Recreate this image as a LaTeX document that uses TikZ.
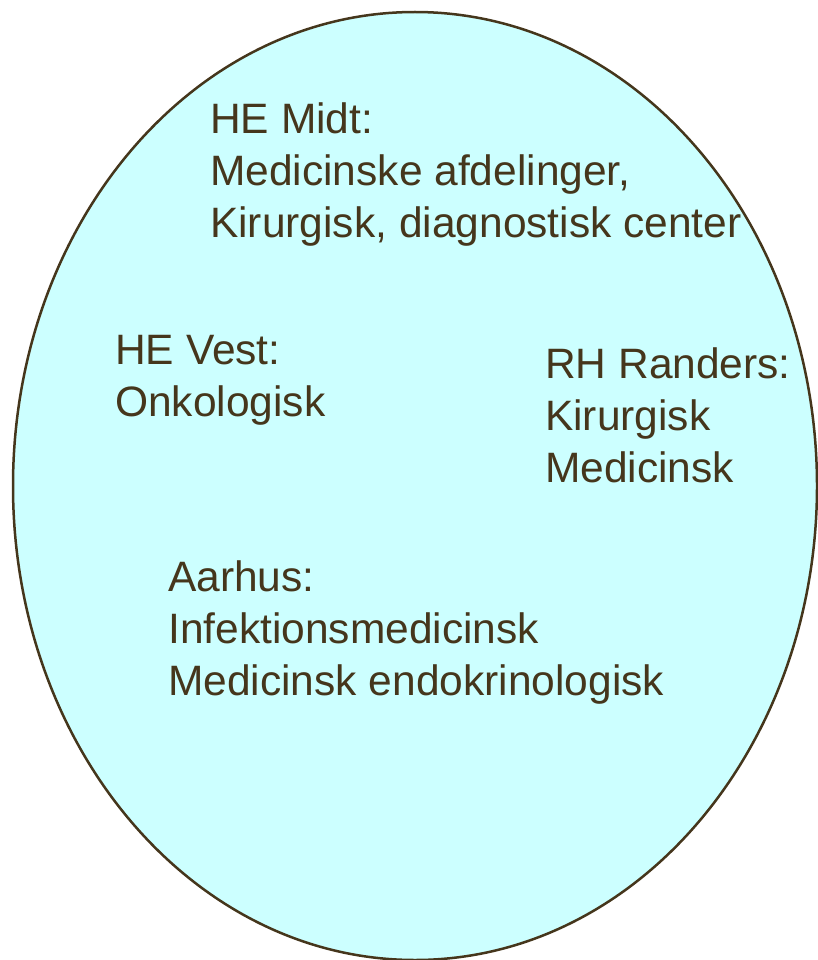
\documentclass[tikz,border=0pt]{standalone}
\usepackage{fontspec}
\setmainfont{Liberation Sans}
\definecolor{fillc}{HTML}{CCFFFF}
\definecolor{inkc}{HTML}{45361C}
\begin{document}
\begin{tikzpicture}[x=1pt,y=1pt,
  lbl/.style={anchor=base west, inner sep=0pt, align=left, text=inkc,
    font=\fontsize{42.5}{52}\selectfont}]
\useasboundingbox (0,0) rectangle (818,-960);
\draw[inkc, line width=2.5pt, fill=fillc] (415,-486) ellipse [x radius=402, y radius=474];
\node[lbl] (midt) at (210,-237) {HE Midt:\\Medicinske afdelinger,\\Kirurgisk, diagnostisk center};
\node[lbl] (vest) at (115,-416) {HE Vest:\\Onkologisk};
\node[lbl] (randers) at (545,-482) {RH Randers:\\Kirurgisk\\Medicinsk};
\node[lbl] (aarhus) at (168,-695) {Aarhus:\\Infektionsmedicinsk\\Medicinsk endokrinologisk};
\end{tikzpicture}
\end{document}
